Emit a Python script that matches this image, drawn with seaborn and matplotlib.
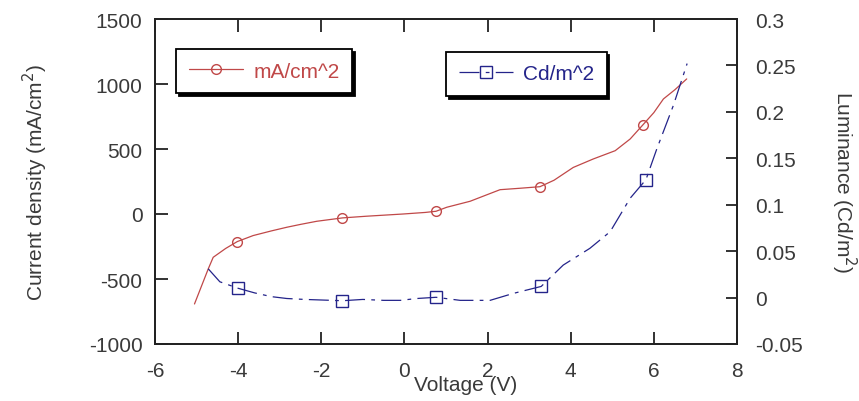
import numpy as np
import pandas as pd
import seaborn as sns
import matplotlib.pyplot as plt

# current density (left axis)
volt_j = [-5.05, -4.72, -4.6, -4.3, -4.02, -3.64, -3.2, -2.83, -2.5, -2.11, -1.49,
          -0.91, -0.03, 0.5, 0.76, 1.02, 1.58, 2.0, 2.3, 2.78, 3.26, 3.6, 4.06,
          4.54, 5.07, 5.43, 5.74, 6.0, 6.23, 6.51, 6.79]
current = [-692, -423, -333, -265, -212, -166, -130, -102, -80, -56, -30,
           -17, 0, 12, 21, 52, 98, 150, 187, 198, 210, 260, 358,
           423, 487, 577, 687, 780, 885, 957, 1039]
marks_j = [4, 10, 14, 20, 26]

# luminance (right axis)
volt_l = [-4.72, -4.44, -4.0, -3.6, -3.2, -2.83, -2.4, -1.49, -1.0, -0.5, -0.1, 0.3,
          0.76, 1.34, 2.06, 2.62, 3.29, 3.82, 4.46, 4.95, 5.43, 5.81, 6.07, 6.47, 6.8]
lumin = [0.031, 0.017, 0.010, 0.005, 0.001, -0.001, -0.002, -0.0034, -0.002, -0.003,
         -0.003, -0.001, 0.0003, -0.003, -0.003, 0.0045, 0.012, 0.035, 0.053, 0.071,
         0.107, 0.127, 0.16, 0.207, 0.252]
marks_l = [2, 7, 12, 16, 21]

x_ticks = [-6, -4, -2, 0, 2, 4, 6, 8]
y1_ticks = [-1000, -500, 0, 500, 1000, 1500]
y2_ticks = [-0.05, 0, 0.05, 0.1, 0.15, 0.2, 0.25, 0.3]
y2_labels = ["-0.05", "0", "0.05", "0.1", "0.15", "0.2", "0.25", "0.3"]

sns.set_style("white")
plt.rcParams["font.family"] = ["Liberation Sans", "DejaVu Sans"]
plt.rcParams["axes.unicode_minus"] = False

red = "#c04848"
blue = "#24248a"
txt = "#3a3a3a"

fig = plt.figure(figsize=(8.59, 4.02), dpi=100)
ax = fig.add_axes([155 / 859, 1 - 345 / 402, 582 / 859, 325 / 402])
ax2 = ax.twinx()

df_j = pd.DataFrame({"V": volt_j, "J": current})
df_l = pd.DataFrame({"V": volt_l, "L": lumin})

sns.lineplot(data=df_j, x="V", y="J", ax=ax, sort=False, estimator=None,
             color=red, lw=0.9, marker="o", markevery=marks_j, ms=7,
             mfc="none", mec=red, mew=1.0, label="mA/cm^2")
sns.lineplot(data=df_l, x="V", y="L", ax=ax2, sort=False, estimator=None,
             color=blue, lw=0.9, linestyle=(0, (16, 5, 3, 5)), marker="s",
             markevery=marks_l, ms=8.5, mfc="none", mec=blue, mew=1.0,
             label="Cd/m^2")

ax.set_xlim(-6, 8)
ax.set_ylim(-1000, 1500)
ax2.set_ylim(-0.05, 0.3)
ax.set_xticks(x_ticks)
ax.set_yticks(y1_ticks)
ax2.set_yticks(y2_ticks)
ax2.set_yticklabels(y2_labels)

for a in (ax, ax2):
    for s in a.spines.values():
        s.set_color("#222222")
        s.set_linewidth(1.3)
ax.tick_params(axis="x", direction="in", length=9, width=1.3, top=True,
               bottom=True, labelsize=15, pad=12, colors="#222222",
               labelcolor=txt)
ax.tick_params(axis="y", direction="in", length=9, width=1.3, labelsize=15,
               pad=9, colors="#222222", labelcolor=txt)
ax2.tick_params(axis="y", direction="in", length=8, width=1.3, labelsize=15,
                pad=13, colors="#222222", labelcolor=txt)

ax.set_xlabel("Voltage (V)", fontsize=15, color=txt)
ax.xaxis.set_label_coords(0.534, -0.095)
ax.xaxis.label.set_va("top")
ax.set_ylabel("Current density (mA/cm$^2$)", fontsize=15, color=txt,
              labelpad=28)
ax2.set_ylabel("Luminance (Cd/m$^2$)", fontsize=15, color=txt,
               rotation=270, labelpad=40)

shadow = {"color": "black", "alpha": 1}
leg1 = ax.legend(loc="upper left", bbox_to_anchor=(21 / 582, 1 - 30 / 325),
                 frameon=True, fancybox=False, shadow=shadow, fontsize=15,
                 handlelength=2.6, handletextpad=0.5, borderpad=0.6,
                 borderaxespad=0)
for t in leg1.get_texts():
    t.set_color(red)
leg1.get_frame().set_edgecolor("black")
leg1.get_frame().set_linewidth(1.3)

leg2 = ax2.legend(loc="upper left", bbox_to_anchor=(291 / 582, 1 - 33 / 325),
                  frameon=True, fancybox=False, shadow=shadow, fontsize=15,
                  handlelength=2.6, handletextpad=0.5, borderpad=0.6,
                  borderaxespad=0)
for t in leg2.get_texts():
    t.set_color(blue)
leg2.get_frame().set_edgecolor("black")
leg2.get_frame().set_linewidth(1.3)

plt.savefig("out.png", dpi=100)
plt.close()
